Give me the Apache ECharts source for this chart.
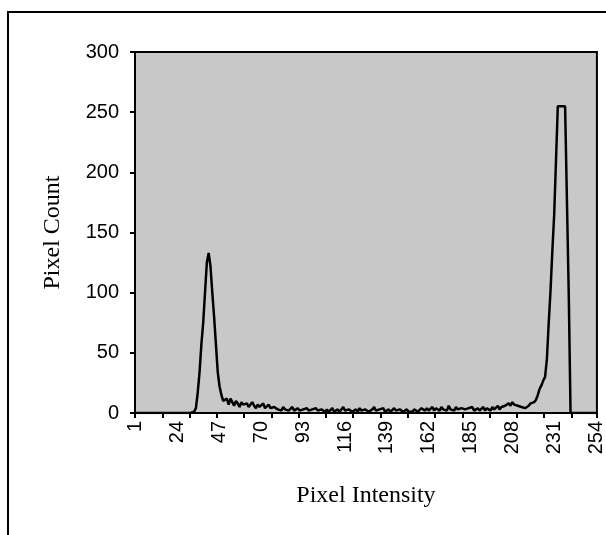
<!DOCTYPE html>
<html>
<head>
  <meta charset="utf-8">
  <title>Pixel Intensity Histogram</title>
  <script src="https://cdn.jsdelivr.net/npm/echarts@6/dist/echarts.min.js"></script>
  <style>
    html, body { margin: 0; padding: 0; background: #fff; }
    #chart { width: 606px; height: 535px; }
  </style>
</head>
<body>
<div id="chart"></div>
<script type="text/javascript">
// pixel intensity categories 1..254
var intensity = [];
for (var i = 1; i <= 254; i++) intensity.push(String(i));

// pixel counts, one per intensity
var pixelCount = [
  0, 0, 0, 0, 0, 0, 0, 0, 0, 0,
  0, 0, 0, 0, 0, 0, 0, 0, 0, 0,
  0, 0, 0, 0, 0, 0, 0, 0, 0, 0,
  0, 0, 1, 4, 17, 34, 57, 75, 100, 125,
  133, 122, 100, 80, 57, 34, 22, 15, 10, 9,
  12, 7, 12, 9, 6, 10, 8, 5, 9, 7,
  6, 8, 5, 7, 9, 6, 4, 7, 5, 6,
  8, 4, 5, 7, 4, 3, 5, 6, 3, 4,
  2, 5, 3, 4, 2, 3, 5, 2, 3, 4,
  2, 1, 3, 2, 4, 2, 1, 3, 2, 4,
  2, 1, 3, 2, 1, 3, 1, 2, 4, 1,
  2, 3, 1, 2, 5, 2, 1, 3, 2, 1,
  2, 3, 1, 4, 2, 1, 3, 2, 1, 2,
  3, 5, 2, 1, 3, 2, 4, 1, 2, 3,
  1, 2, 4, 2, 1, 3, 2, 1, 2, 3,
  1, 2, 1, 3, 2, 1, 2, 4, 3, 2,
  4, 2, 3, 5, 2, 4, 3, 2, 5, 3,
  4, 2, 6, 3, 4, 2, 5, 3, 2, 4,
  5, 3, 2, 4, 3, 5, 2, 3, 4, 2,
  3, 5, 2, 4, 3, 2, 5, 3, 4, 6,
  3, 5, 4, 6, 5, 8, 6, 9, 7, 8,
  6, 7, 5, 6, 4, 5, 6, 8, 8, 9,
  11, 15, 20, 23, 27, 30, 45, 75, 102, 135,
  165, 210, 255, 255, 255, 255, 255, 255, 100, 0,
  0, 0, 0, 0, 0, 0, 0, 0, 0, 0,
  0, 0, 0, 0
];

var chart = echarts.init(document.getElementById('chart'));

chart.setOption({
  animation: false,
  backgroundColor: '#fff',
  // outer frame of the picture (right and bottom edges run off the page)
  graphic: [{
    type: 'rect',
    shape: { x: 8, y: 12, width: 700, height: 700 },
    style: { fill: 'none', stroke: '#000', lineWidth: 2 }
  }],
  grid: {
    left: 135, right: 4, top: 52, bottom: 122,
    show: true,
    backgroundColor: '#c8c8c8',
    borderColor: '#000',
    borderWidth: 2
  },
  xAxis: {
    type: 'category',
    data: intensity,
    boundaryGap: true,
    name: 'Pixel Intensity',
    nameLocation: 'middle',
    nameGap: 71,
    nameTextStyle: { fontFamily: 'Liberation Serif', fontSize: 24, color: '#000' },
    axisLine: { lineStyle: { color: '#000', width: 2 } },
    axisTick: { show: true, interval: 14, alignWithLabel: false, length: 5, lineStyle: { color: '#000', width: 2 } },
    axisLabel: {
      interval: 22, rotate: 90, margin: 8,
      fontFamily: 'Liberation Sans', fontSize: 20, color: '#000'
    },
    splitLine: { show: false }
  },
  yAxis: {
    type: 'value',
    min: 0, max: 300, interval: 50,
    name: 'Pixel Count',
    nameLocation: 'middle',
    nameGap: 70,
    nameRotate: 90,
    nameTextStyle: { fontFamily: 'Liberation Serif', fontSize: 24, color: '#000' },
    axisLine: { show: true, lineStyle: { color: '#000', width: 2 } },
    axisTick: { show: true, length: 5, lineStyle: { color: '#000', width: 2 } },
    axisLabel: { margin: 16, fontFamily: 'Liberation Sans', fontSize: 20, color: '#000' },
    splitLine: { show: false }
  },
  series: [{
    type: 'line',
    data: pixelCount,
    showSymbol: false,
    symbol: 'none',
    lineStyle: { color: '#000', width: 2.5 }
  }]
});
</script>
</body>
</html>
